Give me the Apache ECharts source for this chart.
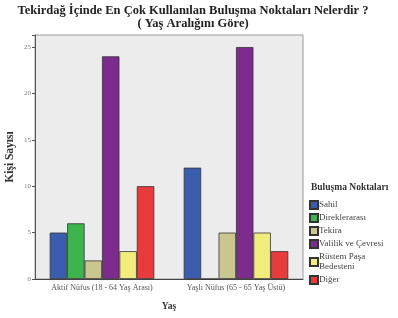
<!DOCTYPE html>
<html><head><meta charset="utf-8">
<script src="https://cdn.jsdelivr.net/npm/echarts@6/dist/echarts.min.js"></script>
<style>html,body{margin:0;padding:0;background:#fff}#c{width:398px;height:318px}</style>
</head><body><div id="c"></div>
<script>
const categories = ['Aktif Nüfus (18 - 64 Yaş Arası)', 'Yaşlı Nüfus (65 - 65 Yaş Üstü)'];
const seriesNames = ['Sahil', 'Direklerarası', 'Tekira', 'Valilik ve Çevresi', 'Rüstem Paşa\nBedesteni', 'Diğer'];
const sahil = [5, 12];
const direklerarasi = [6, 0];
const tekira = [2, 5];
const valilik = [24, 25];
const rustem = [3, 5];
const diger = [10, 3];
const yTicks = [0, 5, 10, 15, 20, 25];
const colors = ['#3a5db0', '#3db54d', '#c9c78f', '#7d2b8e', '#f1ed7a', '#e93b3c'];
const values = [sahil, direklerarasi, tekira, valilik, rustem, diger];
const serif = '"Liberation Serif", "DejaVu Serif", serif';

const chart = echarts.init(document.getElementById('c'));
chart.setOption({
  animation: false,
  backgroundColor: '#fff',
  textStyle: { fontFamily: serif },
  title: [
    { text: 'Tekirdağ İçinde En Çok Kullanılan Buluşma Noktaları Nelerdir ?\n( Yaş Aralığını Göre)',
      left: 188, top: 0, textAlign: 'center',
      textStyle: { fontFamily: serif, fontSize: 12.5, fontWeight: 'bold', color: '#222', lineHeight: 12.5 } },
    { text: 'Buluşma Noktaları', left: 306, top: 178,
      textStyle: { fontFamily: serif, fontSize: 9.5, fontWeight: 'bold', color: '#333' } }
  ],
  legend: {
    orient: 'vertical', left: 304, top: 195,
    itemWidth: 8, itemHeight: 8, itemGap: 3,
    icon: 'rect',
    textStyle: { fontFamily: serif, fontSize: 9, color: '#444', padding: [0, 0, 0, -4], lineHeight: 10 },
    data: seriesNames
  },
  grid: { left: 35, right: 95, top: 35, bottom: 39, outerBoundsMode: 'none', show: true, backgroundColor: '#ececec', borderColor: '#9a9a9a', borderWidth: 1 },
  xAxis: {
    type: 'category', data: categories,
    name: 'Yaş', nameLocation: 'middle', nameGap: 23,
    nameTextStyle: { fontFamily: serif, fontSize: 9.5, fontWeight: 'bold', color: '#333' },
    axisLine: { lineStyle: { color: '#444', width: 1 } },
    axisTick: { alignWithLabel: true, length: 3, lineStyle: { color: '#444' } },
    axisLabel: { interval: 0, fontFamily: serif, fontSize: 8, color: '#555', margin: 5 }
  },
  yAxis: {
    type: 'value', min: 0, max: 26.3, interval: 5,
    name: 'Kişi Sayısı', nameLocation: 'middle', nameGap: 19, nameRotate: 90, nameMoveOverlap: false,
    nameTextStyle: { fontFamily: serif, fontSize: 11.5, fontWeight: 'bold', color: '#333' },
    axisLine: { show: true, lineStyle: { color: '#555' } },
    axisTick: { show: true, length: 3, lineStyle: { color: '#555' } },
    splitLine: { show: false },
    axisLabel: { fontFamily: serif, fontSize: 7, color: '#777', margin: 4,
      formatter: v => yTicks.includes(v) ? String(v) : '' },
    showMaxLabel: false
  },
  series: seriesNames.map((n, i) => ({
    name: n, type: 'bar', data: values[i],
    barGap: '0%', barCategoryGap: '22%',
    itemStyle: { color: colors[i], borderColor: '#333', borderWidth: 0.8 }
  }))
});
</script></body></html>
